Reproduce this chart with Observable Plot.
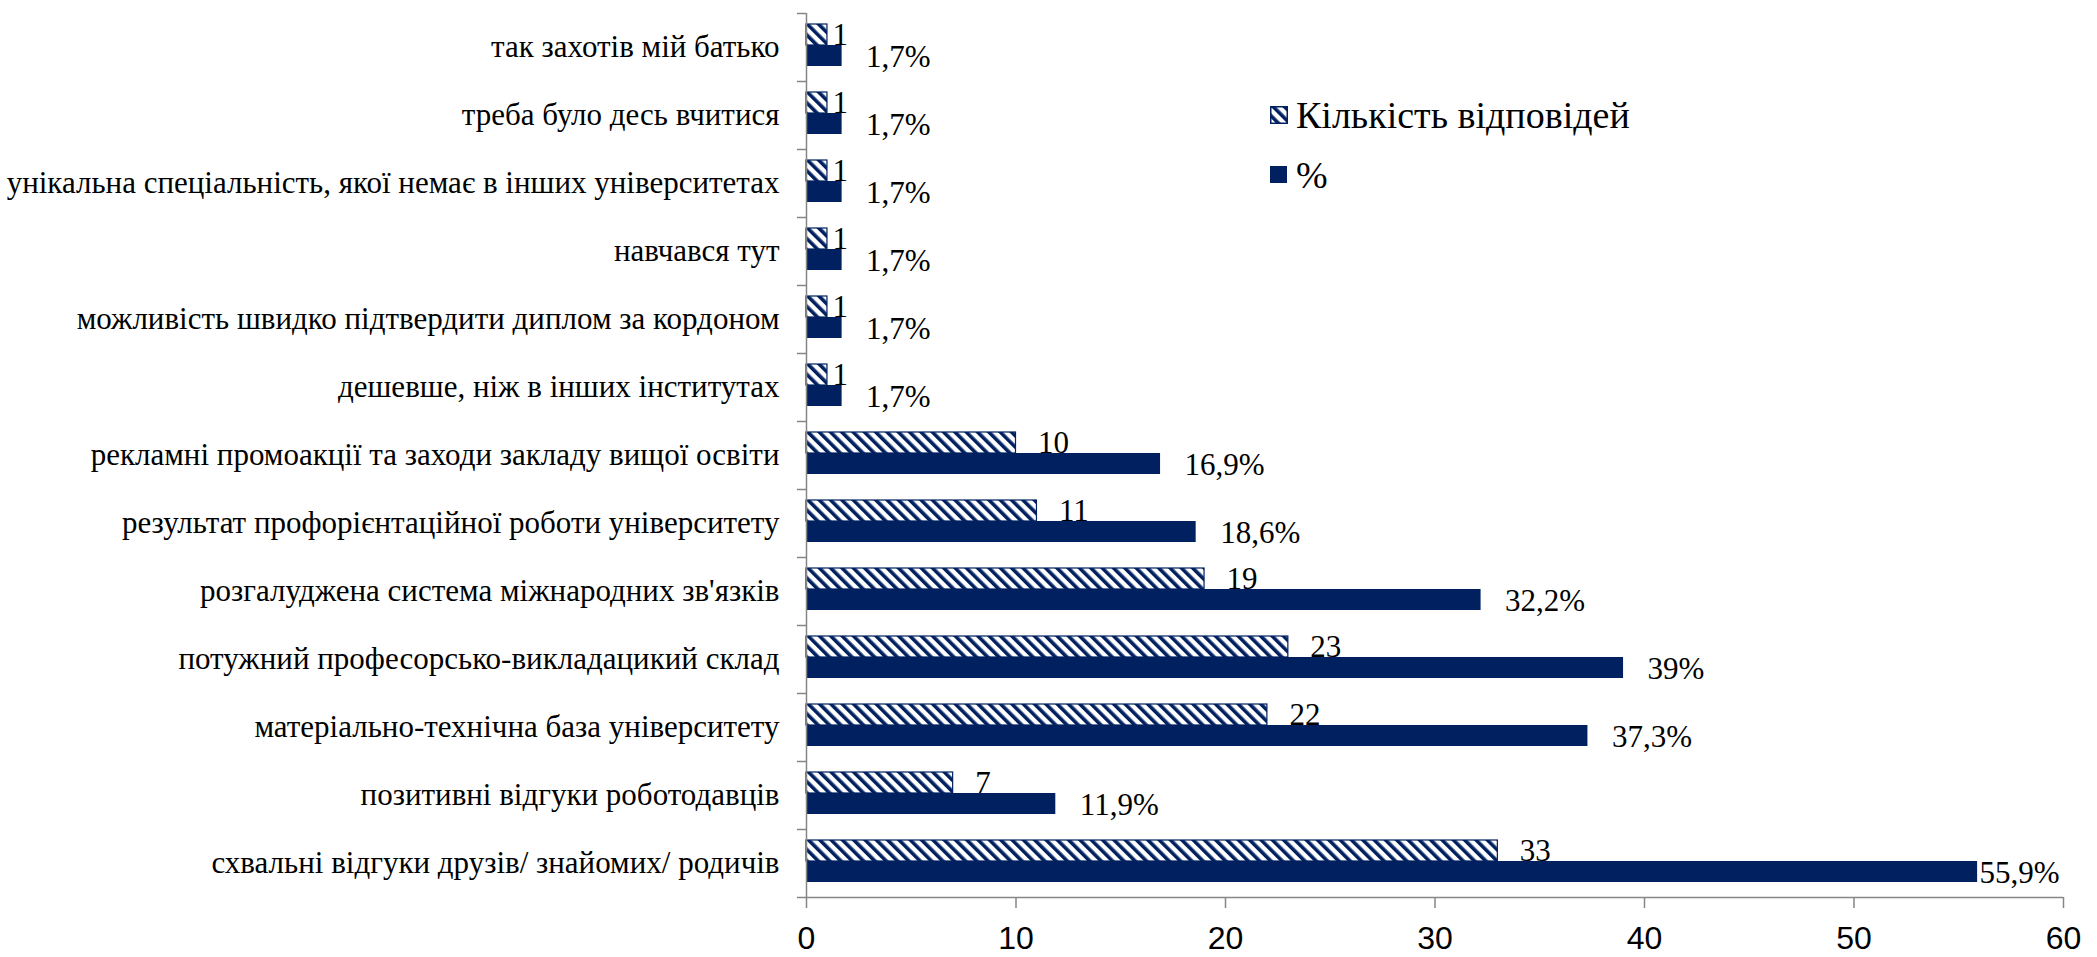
<!DOCTYPE html>
<html><head><meta charset="utf-8">
<script src="https://cdn.jsdelivr.net/npm/d3@7"></script>
<script src="https://cdn.jsdelivr.net/npm/@observablehq/plot@0.6"></script>
<style>
html,body{margin:0;padding:0;background:#fff;}
#wrap{position:relative;width:2097px;height:957px;overflow:hidden;}
.legend{position:absolute;left:1270px;top:100px;font-family:"Liberation Serif","Times New Roman",serif;font-size:38px;color:#000;line-height:1;}
.legend .row{display:flex;align-items:center;height:30px;margin-bottom:30px;}
.legend svg{margin-right:8px;flex:none;}
</style></head><body>
<svg style="position:absolute;width:0;height:0" aria-hidden="true">
 <defs>
  <pattern id="hatch" width="8" height="8" patternUnits="userSpaceOnUse" patternTransform="rotate(-45)">
   <rect width="8" height="8" fill="#ffffff"/>
   <rect width="3.6" height="8" fill="#002060"/>
  </pattern>
 </defs>
</svg>
<div id="wrap"></div>
<script>
const categories = [
  "так захотів мій батько",
  "треба було десь вчитися",
  "унікальна спеціальність, якої немає в інших університетах",
  "навчався тут",
  "можливість швидко підтвердити диплом за кордоном",
  "дешевше, ніж в інших інститутах",
  "рекламні промоакції та заходи закладу вищої освіти",
  "результат профорієнтаційної роботи університету",
  "розгалуджена система міжнародних зв'язків",
  "потужний професорсько-викладацикий склад",
  "матеріально-технічна база університету",
  "позитивні відгуки роботодавців",
  "схвальні відгуки друзів/ знайомих/ родичів"
];
const counts   = [1, 1, 1, 1, 1, 1, 10, 11, 19, 23, 22, 7, 33];
const percents = [1.7, 1.7, 1.7, 1.7, 1.7, 1.7, 16.9, 18.6, 32.2, 39, 37.3, 11.9, 55.9];
const seriesNames = ["Кількість відповідей", "%"];
const xTicks = [0, 10, 20, 30, 40, 50, 60];

const navy = "#002060";
const grey = "#868686";
const serif = "'Liberation Serif', 'Times New Roman', serif";
const data = categories.map((c, i) => ({category: c, count: counts[i], pct: percents[i]}));
const fmtPct = v => String(v).replace(".", ",") + "%";
const lastCat = categories[categories.length - 1];

const chart = Plot.plot({
  width: 2097,
  height: 957,
  marginLeft: 806,
  marginRight: 34,
  marginTop: 13,
  marginBottom: 60,
  style: {fontFamily: serif, fontSize: "31px", color: "#000", background: "#fff", overflow: "visible"},
  x: {domain: [0, 60], ticks: xTicks, label: null},
  y: {domain: categories, padding: 0, label: null},
  marks: [
    Plot.barX(data, {y: "category", x: "count", fill: "url(#hatch)", stroke: navy, strokeWidth: 1.2, insetTop: 11, insetBottom: 36}),
    Plot.barX(data, {y: "category", x: "pct", fill: navy, insetTop: 32, insetBottom: 15}),
    Plot.text(data.filter(d => d.count === 1), {y: "category", x: "count", text: d => String(d.count), textAnchor: "start", dx: 5, dy: -12, fontSize: 31, fontFamily: serif, fill: "#000"}),
    Plot.text(data.filter(d => d.count > 1), {y: "category", x: "count", text: d => String(d.count), textAnchor: "start", dx: 22, dy: -12, fontSize: 31, fontFamily: serif, fill: "#000"}),
    Plot.text(data.filter(d => d.pct < 50), {y: "category", x: "pct", text: d => fmtPct(d.pct), textAnchor: "start", dx: 24, dy: 10, fontSize: 31, fontFamily: serif, fill: "#000"}),
    Plot.text(data.filter(d => d.pct >= 50), {y: "category", x: "pct", text: d => fmtPct(d.pct), textAnchor: "start", dx: 2, dy: 10, fontSize: 31, fontFamily: serif, fill: "#000"}),
    Plot.ruleX([0], {stroke: grey, strokeWidth: 1.5}),
    Plot.tickY([lastCat], {y: d => d, dy: 34, stroke: grey, strokeWidth: 1.5, insetLeft: -9}),
    Plot.axisY({tickSize: 9, text: null, dy: -34, stroke: grey, strokeWidth: 1.5, label: null}),
    Plot.axisY({tickSize: 0, tickPadding: 27, fontSize: 31, fontFamily: serif, fill: "#000", label: null}),
    Plot.axisX({ticks: xTicks, tickSize: 11, tickPadding: 18, stroke: grey, strokeWidth: 1.5, fontSize: 32, fontFamily: "'Liberation Sans Narrow', 'Liberation Sans', Arial, sans-serif", fill: "#000", label: null})
  ]
});

const wrap = document.getElementById("wrap");
wrap.appendChild(chart);

const legend = document.createElement("div");
legend.className = "legend";
legend.innerHTML = `
  <div class="row"><svg width="18" height="18"><rect x="0.75" y="0.75" width="16.5" height="16.5" fill="url(#hatch)" stroke="${navy}" stroke-width="1.5"/></svg><span>${seriesNames[0]}</span></div>
  <div class="row"><svg width="18" height="18"><rect x="0" y="0" width="17" height="17" fill="${navy}"/></svg><span>${seriesNames[1]}</span></div>`;
wrap.appendChild(legend);
</script>
</body></html>
